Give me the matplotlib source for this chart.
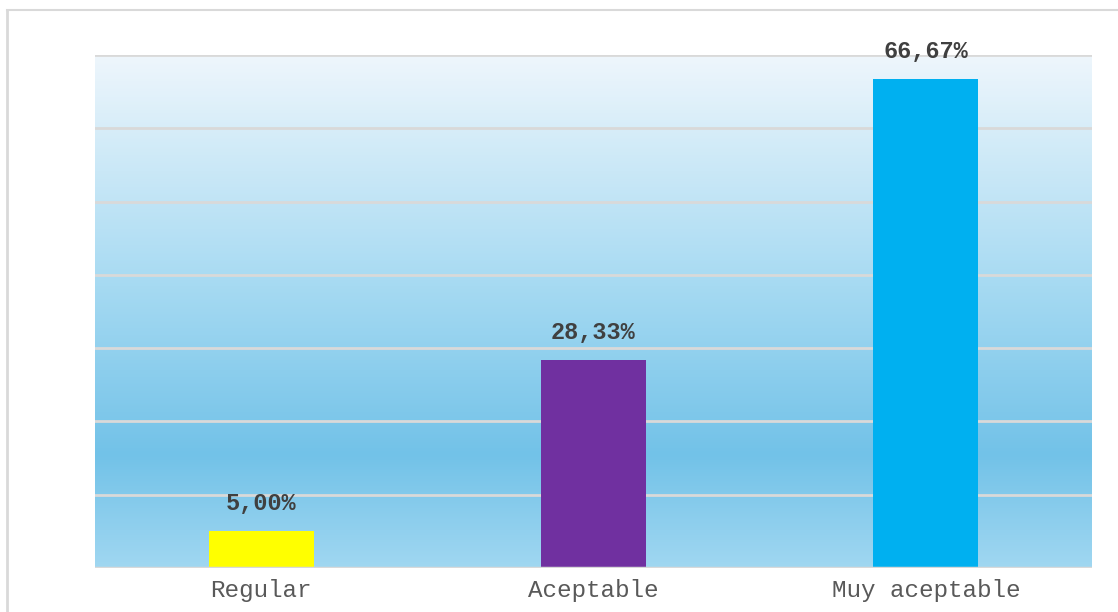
import numpy as np
import matplotlib.pyplot as plt
from matplotlib.colors import LinearSegmentedColormap

# Data
categories = ['Regular', 'Aceptable', 'Muy aceptable']
values = [5.00, 28.33, 66.67]
bar_colors = ['#ffff00', '#7030a0', '#00b0f0']
value_labels = ['5,00%', '28,33%', '66,67%']

fig = plt.figure(figsize=(11.18, 6.12), dpi=100)
ax = fig.add_axes([0.085, 0.0719, 0.8917, 0.8382])

# gradient background of the plot area (top -> bottom)
grad_cmap = LinearSegmentedColormap.from_list(
    'bg', [(0.0, '#eef6fc'), (0.45, '#a6daf2'), (0.78, '#72c2e8'), (1.0, '#a0d7f1')])
grad = np.linspace(0, 1, 256).reshape(-1, 1)
ax.imshow(grad, cmap=grad_cmap, aspect='auto', extent=[0, 1, 0, 1],
          transform=ax.transAxes, zorder=0)

ax.set_xlim(-0.5, len(categories) - 0.5)
ax.set_ylim(0, 70)

# gridlines
for y in range(10, 71, 10):
    ax.axhline(y, color='#d9d9d9', lw=2, zorder=1)
ax.axhline(0, color='#d9d9d9', lw=2.5, zorder=3)

x = np.arange(len(categories))
ax.bar(x, values, width=0.316, color=bar_colors, zorder=2)

for xi, v, lab in zip(x, values, value_labels):
    ax.text(xi, v + 2.2, lab, ha='center', va='bottom', fontsize=17,
            fontweight='bold', family='Liberation Mono', color='#404040', zorder=4)

ax.set_xticks(x)
ax.set_xticklabels(categories, family='Liberation Mono', fontsize=17.5, color='#595959')
ax.tick_params(axis='x', length=0, pad=8)
ax.set_yticks([])
for s in ax.spines.values():
    s.set_visible(False)

# outer chart border (left and top edges visible)
fig.add_artist(plt.Line2D([6.5 / 1118, 6.5 / 1118], [0, 1 - 10 / 612],
                          color='#d9d9d9', lw=2, transform=fig.transFigure))
fig.add_artist(plt.Line2D([6.5 / 1118, 1], [1 - 10 / 612, 1 - 10 / 612],
                          color='#d9d9d9', lw=1.5, transform=fig.transFigure))

fig.savefig('out.png', dpi=100)
